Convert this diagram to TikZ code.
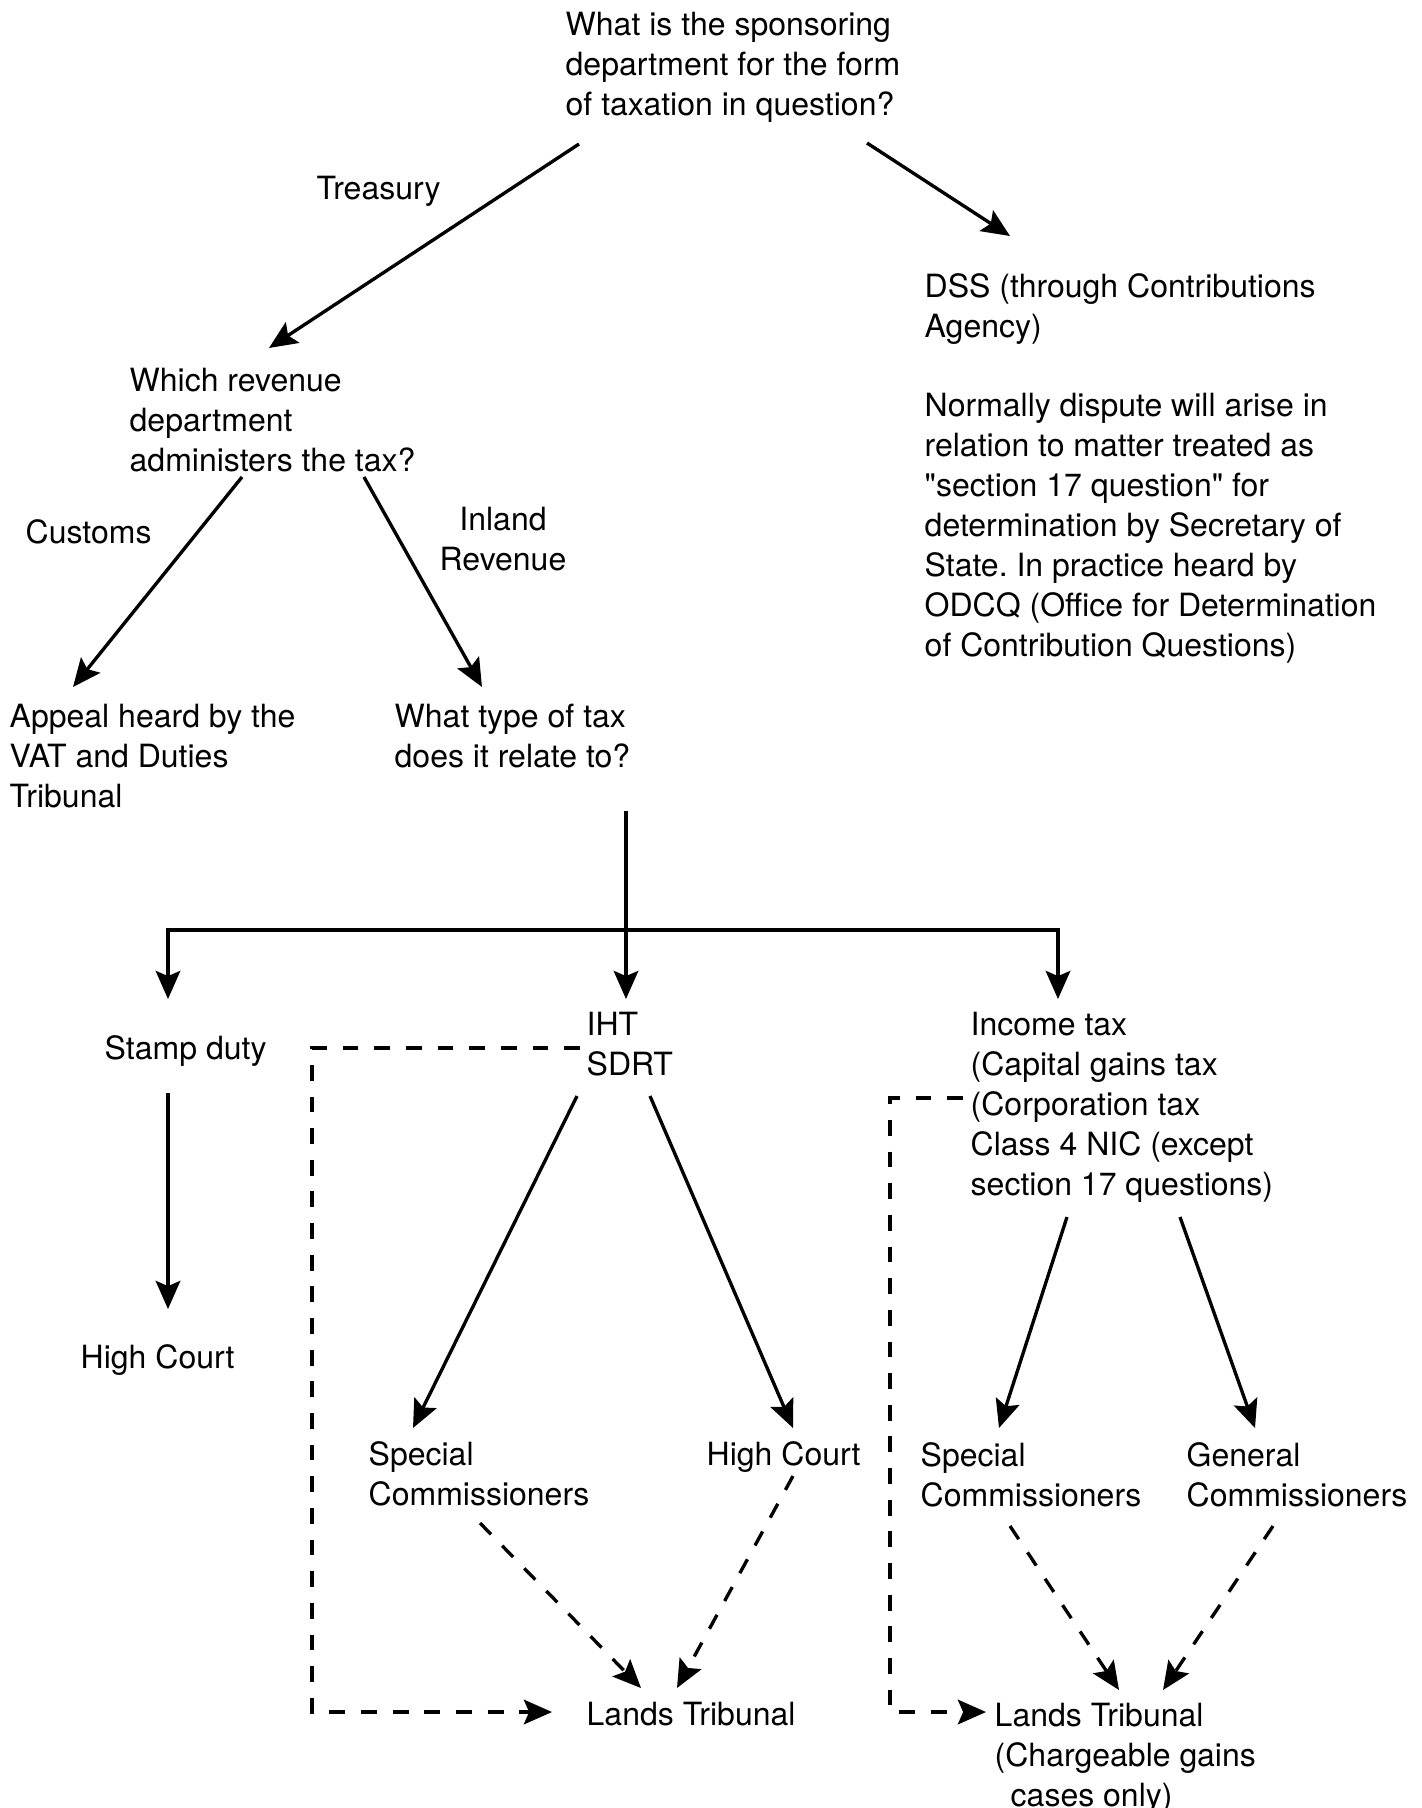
\documentclass[tikz,border=0pt]{standalone}
\usepackage{fontspec}
\setmainfont{TeX Gyre Heros}[Ligatures=TeXOff]
\usetikzlibrary{arrows.meta}
\frenchspacing

\tikzset{
  txt/.style={anchor=north west, inner sep=0pt, align=left,
    font=\fontsize{9.1pt}{11.38pt}\selectfont},
  arr/.style={line width=0.95pt, -{Stealth[length=8pt,width=7pt,inset=1.5pt]}},
  darr/.style={arr, dash pattern=on 4.5pt off 4.5pt},
}

\begin{document}
\begin{tikzpicture}[x=0.01cm,y=-0.01cm]
\useasboundingbox (0,0) rectangle (1422,1808);

% questions and answers
\node[txt] (spons) at (565,11) {What is the sponsoring\\department for the form\\of taxation in question?};
\node[txt] (treas) at (316,175) {Treasury};
\node[txt] (dss) at (924,273) {DSS (through Contributions\\Agency)};
\node[txt] (odcq) at (924,392) {Normally dispute will arise in\\relation to matter treated as\\"section 17 question" for\\determination by Secretary of\\State. In practice heard by\\ODCQ (Office for Determination\\of Contribution Questions)};
\node[txt] (which) at (129,367) {Which revenue\\department\\administers the tax?};
\node[txt] (cust) at (25,519) {Customs};
\node[txt, anchor=north, align=center] (inland) at (503,506) {Inland\\Revenue};
\node[txt] (vat) at (9,703) {Appeal heard by the\\VAT and Duties\\Tribunal};
\node[txt] (type) at (394,703) {What type of tax\\does it relate to?};

% types of tax
\node[txt] (stamp) at (104,1035) {Stamp duty};
\node[txt] (iht) at (586,1011) {IHT\\SDRT};
\node[txt] (income) at (970,1011) {Income tax\\(Capital gains tax\\(Corporation tax\\Class 4 NIC (except\\section 17 questions)};

% where the appeal goes
\node[txt] (hc1) at (80,1344) {High Court};
\node[txt] (spc1) at (368,1441) {Special\\Commissioners};
\node[txt] (hc2) at (706,1441) {High Court};
\node[txt] (spc2) at (920,1442) {Special\\Commissioners};
\node[txt] (gen) at (1186,1442) {General\\Commissioners};
\node[txt] (lt1) at (586,1701) {Lands Tribunal};
\node[txt] (lt2) at (994,1702) {Lands Tribunal\\(Chargeable gains\\\hspace{0.5em}cases only)};

\coordinate (split) at ([shift={(232,227)}]type.north west);

% solid arrows
\draw[arr] ([shift={(14,133)}]spons.north west) -- ([shift={(140,-19)}]which.north west);
\draw[arr] ([shift={(302,132)}]spons.north west) -- ([shift={(86,-37)}]dss.north west);
\draw[arr] ([shift={(113,110)}]which.north west) -- ([shift={(64,-16)}]vat.north west);
\draw[arr] ([shift={(235,110)}]which.north west) -- ([shift={(88,-16)}]type.north west);
\draw[arr] ([shift={(232,108)}]type.north west) -- ([shift={(40,-12)}]iht.north west);
\draw[arr] (split) -| ([shift={(64,-36)}]stamp.north west);
\draw[arr] (split) -| ([shift={(88,-12)}]income.north west);
\draw[arr] ([shift={(64,58)}]stamp.north west) -- ([shift={(88,-35)}]hc1.north west);
\draw[arr] ([shift={(-9,85)}]iht.north west) -- ([shift={(45,-13)}]spc1.north west);
\draw[arr] ([shift={(64,85)}]iht.north west) -- ([shift={(87,-13)}]hc2.north west);
\draw[arr] ([shift={(97,206)}]income.north west) -- ([shift={(79,-14)}]spc2.north west);
\draw[arr] ([shift={(210,206)}]income.north west) -- ([shift={(69,-14)}]gen.north west);

% dashed arrows to the Lands Tribunal
\draw[darr] ([shift={(112,82)}]spc1.north west) -- ([shift={(55,-13)}]lt1.north west);
\draw[darr] ([shift={(87,35)}]hc2.north west) -- ([shift={(91,-13)}]lt1.north west);
\draw[darr] ([shift={(90,84)}]spc2.north west) -- ([shift={(125,-12)}]lt2.north west);
\draw[darr] ([shift={(87,84)}]gen.north west) -- ([shift={(169,-12)}]lt2.north west);
\draw[darr] ([shift={(-6,37)}]iht.north west) -- ++(-268,0) |- ([shift={(-34,11)}]lt1.north west);
\draw[darr] ([shift={(-7,87)}]income.north west) -- ++(-73,0) |- ([shift={(-8,10)}]lt2.north west);
\end{tikzpicture}
\end{document}
